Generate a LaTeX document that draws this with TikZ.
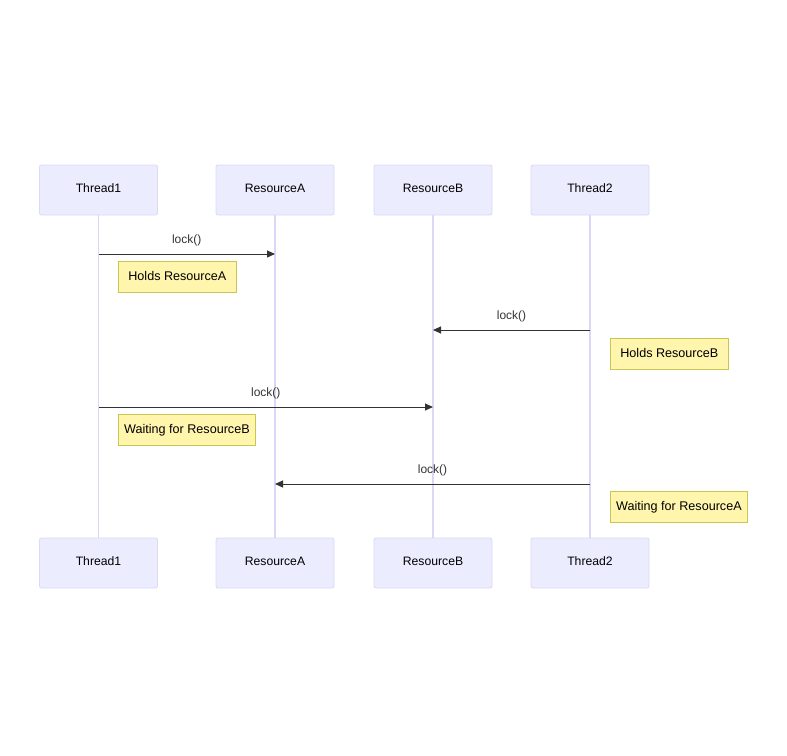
\documentclass[tikz,border=0pt]{standalone}
\usepackage{fontspec}
\setmainfont{Liberation Sans}
\usetikzlibrary{arrows.meta}
\definecolor{actfill}{HTML}{ECECFF}
\definecolor{actline}{HTML}{DCD8F6}
\definecolor{lifeline}{HTML}{DDD6F6}
\definecolor{notefill}{HTML}{FFF5AD}
\definecolor{noteline}{HTML}{C8C850}
\definecolor{msg}{HTML}{333333}
\tikzset{
  actor/.style={draw=actline, fill=actfill, rounded corners=2pt, minimum width=118pt, minimum height=50pt, inner sep=0pt, font=\fontsize{12.2pt}{14pt}\selectfont, line width=0.8pt},
  notebox/.style={draw=noteline, fill=notefill, minimum height=31pt, inner sep=0pt, font=\fontsize{12.6pt}{14pt}\selectfont, line width=0.8pt, anchor=north west},
  life/.style={draw=lifeline, line width=1.2pt},
  message/.style={draw=msg, line width=1pt, -{Triangle[length=8pt,width=7pt]}},
  msglabel/.style={font=\fontsize{12pt}{14pt}\selectfont, text=msg}
}
\begin{document}
\begin{tikzpicture}[x=1pt,y=-1pt]
\useasboundingbox (0,0) rectangle (787,755);
% actors top
\node[actor] (t1) at (98.5,190) {\raisebox{3pt}{Thread1}};
\node[actor] (ra) at (275,190) {\raisebox{3pt}{ResourceA}};
\node[actor] (rb) at (433,190) {\raisebox{3pt}{ResourceB}};
\node[actor] (t2) at (590,190) {\raisebox{3pt}{Thread2}};
% actors bottom
\node[actor] (t1b) at (98.5,563) {\raisebox{3pt}{Thread1}};
\node[actor] (rab) at (275,563) {\raisebox{3pt}{ResourceA}};
\node[actor] (rbb) at (433,563) {\raisebox{3pt}{ResourceB}};
\node[actor] (t2b) at (590,563) {\raisebox{3pt}{Thread2}};
% lifelines
\draw[life] (t1) -- (t1b);
\draw[life] (ra) -- (rab);
\draw[life] (rb) -- (rbb);
\draw[life] (t2) -- (t2b);
% messages
\coordinate (m1s) at (98.5,254); \coordinate (m1e) at (275,254);
\draw[message] (m1s) -- node[msglabel, above=4pt] (l1) {lock()} (m1e);
\coordinate (m2s) at (590,330); \coordinate (m2e) at (433,330);
\draw[message] (m2s) -- node[msglabel, above=4pt] (l2) {lock()} (m2e);
\coordinate (m3s) at (98.5,407); \coordinate (m3e) at (433,407);
\draw[message] (m3s) -- node[msglabel, above=4pt] (l3) {lock()} (m3e);
\coordinate (m4s) at (590,484); \coordinate (m4e) at (275,484);
\draw[message] (m4s) -- node[msglabel, above=4pt] (l4) {lock()} (m4e);
% notes
\node[notebox, minimum width=118pt] (n1) at (118,261) {\raisebox{2pt}{Holds ResourceA}};
\node[notebox, minimum width=118pt] (n2) at (610,338) {\raisebox{2pt}{Holds ResourceB}};
\node[notebox, minimum width=137pt] (n3) at (118,414) {\raisebox{2pt}{Waiting for ResourceB}};
\node[notebox, minimum width=137pt] (n4) at (610,491) {\raisebox{2pt}{Waiting for ResourceA}};
\end{tikzpicture}
\end{document}
